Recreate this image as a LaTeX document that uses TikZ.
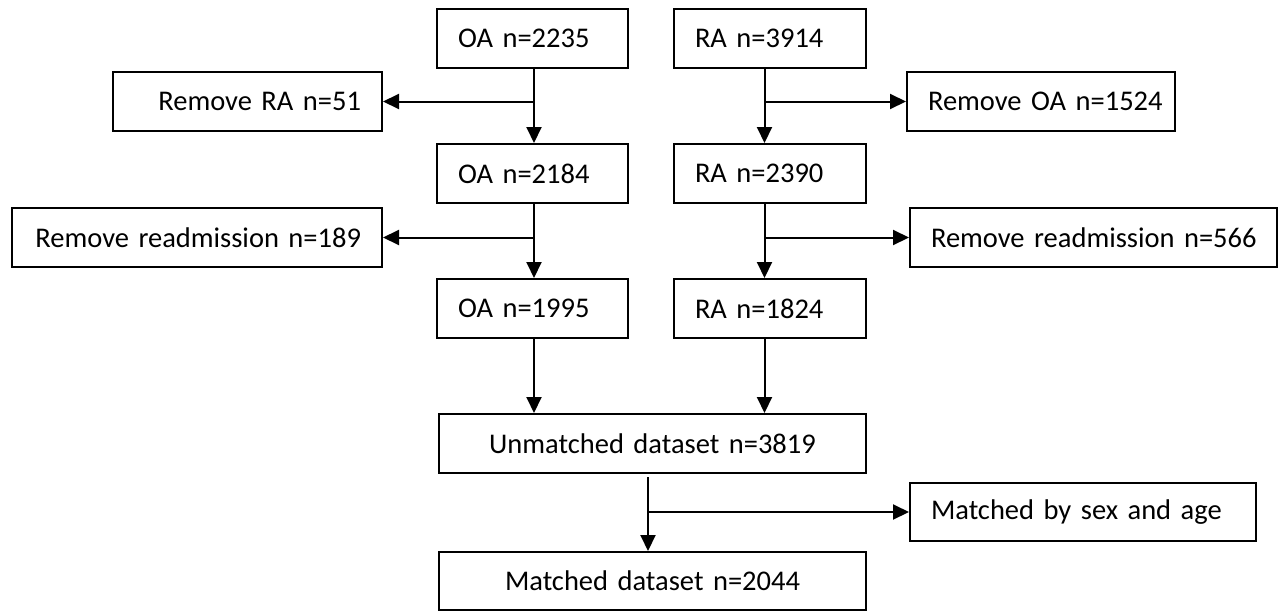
\documentclass[tikz,border=0pt]{standalone}
\usepackage{fontspec}
\setmainfont{Carlito}
\usetikzlibrary{arrows.meta}
\newcommand\myboxfont{\fontsize{28.5}{34}\selectfont\spaceskip=5.5pt\relax}
\begin{document}
\begin{tikzpicture}[x=1pt,y=1pt,
  box/.style={draw, line width=2pt, inner xsep=21pt, inner ysep=0pt,
    minimum height=59pt, font=\myboxfont, anchor=center},
  bl/.style={box, align=left, text width=#1-42pt},
  br/.style={box, align=right, text width=#1-42pt},
  bc/.style={box, align=center, text width=#1-42pt},
  arr/.style={line width=2pt, -{Triangle[length=16pt,width=15pt]}}]
\useasboundingbox (0,0) rectangle (1283,-611);
% main column
\node[bl=191pt] (oa1) at (532.5,-38.5) {\mbox{OA n=2235}};
\node[bl=192pt] (ra1) at (770,-38.5) {\mbox{RA n=3914}};
\node[bl=191pt] (oa2) at (532.5,-173.5) {\mbox{OA n=2184}};
\node[bl=192pt] (ra2) at (770,-173.5) {\mbox{RA n=2390}};
\node[bl=191pt] (oa3) at (532.5,-308.5) {\mbox{OA n=1995}};
\node[bl=192pt] (ra3) at (770,-308.5) {\mbox{RA n=1824}};
\node[bc=427pt] (unm) at (652.5,-443.5) {\mbox{Unmatched dataset n=3819}};
\node[bc=427pt, minimum height=58pt] (mat) at (652.5,-581) {\mbox{Matched dataset n=2044}};
% side boxes
\node[br=269pt] (rra) at (247.5,-101.5) {\mbox{Remove RA n=51}};
\node[br=370pt] (r189) at (197,-237.5) {\mbox{Remove readmission n=189}};
\node[bl=268pt] (roa) at (1041,-101.5) {\mbox{Remove OA n=1524}};
\node[bl=367pt] (r566) at (1093.5,-237.5) {\mbox{Remove readmission n=566}};
\node[bl=346pt, minimum height=58pt] (msa) at (1083,-512) {\mbox{Matched by sex and age}};
% connectors left column
\draw[arr] ([xshift=1.5pt]oa1.south) -- ([xshift=1.5pt]oa2.north);
\draw[arr] ([xshift=1.5pt]oa1.south |- rra.east) -- (rra.east);
\draw[arr] ([xshift=1.5pt]oa2.south) -- ([xshift=1.5pt]oa3.north);
\draw[arr] ([xshift=1.5pt]oa2.south |- r189.east) -- (r189.east);
\draw[arr] ([xshift=1.5pt]oa3.south) -- ([xshift=1.5pt]oa3.south |- unm.north);
% connectors right column
\draw[arr] ([xshift=-5.5pt]ra1.south) -- ([xshift=-5.5pt]ra2.north);
\draw[arr] ([xshift=-5.5pt]ra1.south |- roa.west) -- (roa.west);
\draw[arr] ([xshift=-5.5pt]ra2.south) -- ([xshift=-5.5pt]ra3.north);
\draw[arr] ([xshift=-5.5pt]ra2.south |- r566.west) -- (r566.west);
\draw[arr] ([xshift=-5.5pt]ra3.south) -- ([xshift=-5.5pt]ra3.south |- unm.north);
% bottom
\draw[arr] ([xshift=-4.5pt,yshift=-3pt]unm.south) -- ([xshift=-4.5pt]mat.north);
\draw[arr] ([xshift=-4.5pt]unm.south |- msa.west) -- (msa.west);
\end{tikzpicture}
\end{document}
